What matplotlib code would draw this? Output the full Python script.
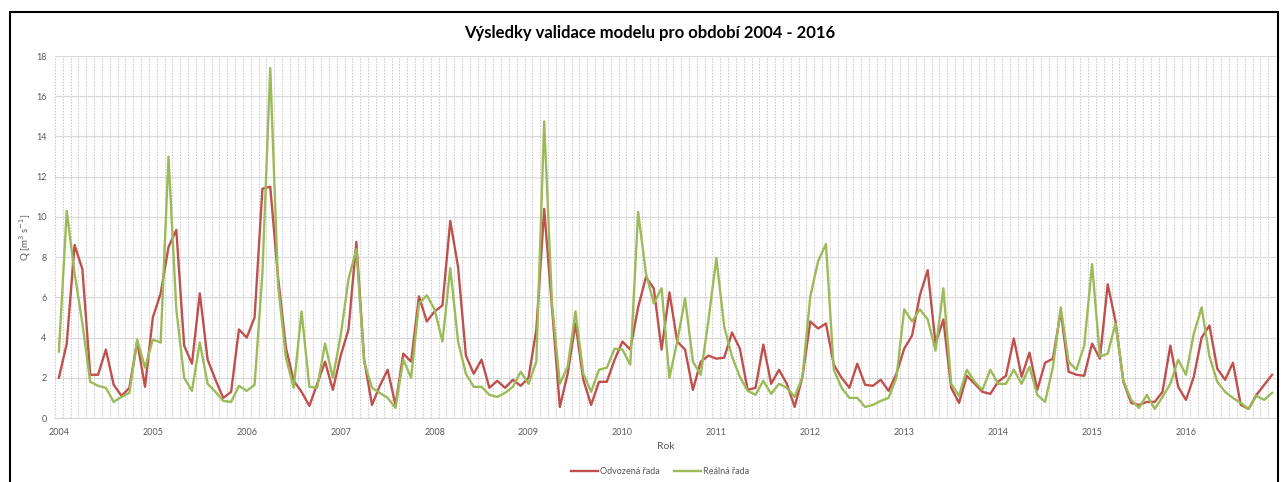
import numpy as np
import matplotlib
matplotlib.use('Agg')
import matplotlib.pyplot as plt
from matplotlib.patches import Rectangle

plt.rcParams['font.family'] = ['Lato', 'DejaVu Sans']

# roky na ose x (popisky po 12 mesicich)
roky = ['2004', '2005', '2006', '2007', '2008', '2009', '2010',
        '2011', '2012', '2013', '2014', '2015', '2016']

# odvozena rada (mesicni prutoky 2004 - 2016)
odvozena = [
    2.0, 3.7, 8.6, 7.4, 2.15, 2.15, 3.4, 1.65, 1.1, 1.5, 3.8, 1.55,
    5.0, 6.2, 8.5, 9.35, 3.6, 2.7, 6.2, 2.9, 1.9, 1.0, 1.3, 4.4,
    4.0, 5.0, 11.4, 11.5, 7.0, 3.5, 1.85, 1.3, 0.6, 1.7, 2.8, 1.4,
    3.1, 4.4, 8.75, 2.9, 0.65, 1.6, 2.4, 0.65, 3.2, 2.8, 6.05, 4.8,
    5.3, 5.6, 9.8, 7.5, 3.1, 2.2, 2.9, 1.5, 1.85, 1.5, 1.9, 1.6,
    2.0, 4.4, 10.4, 5.5, 0.55, 2.2, 4.7, 1.9, 0.65, 1.8, 1.8, 2.9,
    3.8, 3.4, 5.5, 7.0, 6.45, 3.4, 6.25, 3.8, 3.4, 1.4, 2.8, 3.1,
    2.95, 3.0, 4.25, 3.45, 1.4, 1.5, 3.65, 1.7, 2.4, 1.7, 0.55, 2.05,
    4.8, 4.45, 4.7, 2.65, 2.0, 1.5, 2.7, 1.65, 1.6, 1.9, 1.35, 2.2,
    3.45, 4.1, 6.1, 7.35, 3.7, 4.9, 1.5, 0.75, 2.1, 1.7, 1.3, 1.2,
    1.8, 2.1, 3.95, 2.05, 3.25, 1.4, 2.75, 2.95, 5.3, 2.3, 2.15, 2.1,
    3.7, 2.95, 6.65, 4.8, 1.8, 0.75, 0.65, 0.8, 0.8, 1.3, 3.6, 1.55,
    0.9, 2.05, 4.0, 4.6, 2.45, 1.9, 2.75, 0.65, 0.45, 1.15, 1.65, 2.15,
]

# realna (merena) rada
realna = [
    3.3, 10.3, 7.2, 4.7, 1.8, 1.6, 1.5, 0.8, 1.05, 1.25, 3.9, 2.5,
    3.9, 3.75, 13.0, 5.4, 2.0, 1.35, 3.75, 1.7, 1.3, 0.85, 0.8, 1.6,
    1.35, 1.65, 7.2, 17.4, 6.6, 3.0, 1.5, 5.3, 1.55, 1.5, 3.7, 2.0,
    4.1, 6.9, 8.4, 2.8, 1.5, 1.25, 1.0, 0.5, 2.9, 2.0, 5.7, 6.1,
    5.4, 3.8, 7.45, 3.8, 2.2, 1.55, 1.55, 1.15, 1.05, 1.25, 1.55, 2.3,
    1.7, 2.8, 14.75, 5.7, 1.7, 2.55, 5.3, 2.2, 1.3, 2.4, 2.5, 3.45,
    3.4, 2.65, 10.25, 7.2, 5.7, 6.45, 2.0, 3.8, 5.95, 2.8, 2.15, 4.9,
    7.95, 4.55, 3.05, 2.05, 1.35, 1.15, 1.85, 1.2, 1.7, 1.5, 1.05, 2.05,
    6.05, 7.8, 8.65, 2.4, 1.5, 1.0, 1.0, 0.55, 0.65, 0.85, 1.0, 2.0,
    5.4, 4.8, 5.4, 4.9, 3.35, 6.45, 1.7, 1.1, 2.4, 1.8, 1.4, 2.4,
    1.7, 1.7, 2.4, 1.7, 2.55, 1.15, 0.8, 2.55, 5.5, 2.8, 2.4, 3.6,
    7.65, 3.05, 3.2, 4.7, 1.85, 0.9, 0.5, 1.15, 0.45, 1.05, 1.7, 2.9,
    2.15, 4.2, 5.5, 3.05, 1.8, 1.3, 1.0, 0.75, 0.45, 1.1, 0.9, 1.25,
]

W, H = 1281, 482
fig = plt.figure(figsize=(W / 100, H / 100), dpi=100)
ax = fig.add_axes([55 / W, 1 - 418 / H, (1276 - 55) / W, (418 - 56) / H])

x = np.arange(len(odvozena))
ax.plot(x, odvozena, color='#C0504D', lw=1.7, label='Odvozená řada', zorder=3)
ax.plot(x, realna, color='#9BBB59', lw=1.7, label='Reálná řada', zorder=4)

ax.set_xlim(-0.5, len(x) - 0.5)
ax.set_ylim(0, 18)

# popisky let + svisle carkovane mrizky po mesicich
ax.set_xticks(np.arange(0, len(x), 12))
ax.set_xticklabels(roky)
ax.set_xticks(np.arange(-0.5, len(x), 1), minor=True)
ax.set_yticks(np.arange(0, 19, 2))

ax.grid(which='minor', axis='x', color='#c4c4c4', lw=0.7, linestyle=(0, (1.5, 1.5)))
ax.grid(which='major', axis='y', color='#d9d9d9', lw=0.9)
ax.grid(which='major', axis='x', visible=False)
ax.tick_params(which='both', length=0, labelsize=6.5, labelcolor='#595959')
ax.tick_params(axis='x', pad=7)
ax.tick_params(axis='y', pad=6)

for s in ['top', 'right', 'left']:
    ax.spines[s].set_visible(False)
ax.spines['bottom'].set_color('#d9d9d9')

ax.set_xlabel('Rok', fontsize=7.5, color='#595959', labelpad=4)
ax.set_ylabel('Q [m$^3$ s$^{-1}$]', fontsize=7, color='#595959', labelpad=2)

fig.text(650 / W, 1 - 33 / H, 'Výsledky validace modelu pro období 2004 - 2016',
         ha='center', va='center', fontsize=12, fontweight='bold', color='black')

fig.legend(loc='center', bbox_to_anchor=(660 / W, 1 - 472 / H), ncol=2,
           frameon=False, fontsize=6.5, labelcolor='#595959',
           handlelength=3, handletextpad=0.3, columnspacing=1.5)

# cerny ramecek kolem grafu
fig.patches.append(Rectangle((10 / W, -0.05), (1278 - 10) / W, 1.05 - 12 / H,
                             transform=fig.transFigure, fill=False,
                             edgecolor='black', lw=1.5))

fig.savefig('out.png', dpi=100)
